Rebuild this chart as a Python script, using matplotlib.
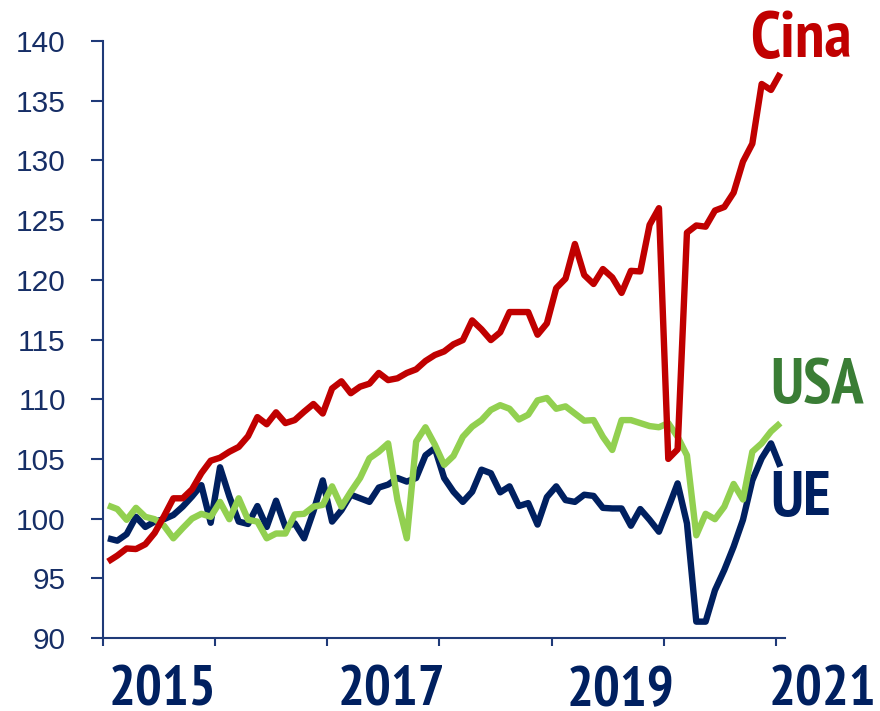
import numpy as np
import matplotlib
matplotlib.use("Agg")
import matplotlib.pyplot as plt
from matplotlib import font_manager as fm

# Monthly data, Jan 2015 - Jan 2021 (73 months)
cina = [96.4, 96.9, 97.5, 97.45, 97.85, 98.8, 100.2, 101.7, 101.7, 102.45, 103.8, 104.85,
        105.1, 105.6, 106.0, 106.9, 108.5, 107.9, 108.9, 108.0, 108.25, 108.95, 109.6, 108.8,
        110.9, 111.5, 110.5, 111.05, 111.3, 112.2, 111.6, 111.75, 112.2, 112.5, 113.2, 113.7,
        114.0, 114.6, 114.95, 116.6, 115.85, 114.95, 115.6, 117.3, 117.3, 117.3, 115.4, 116.35,
        119.3, 120.1, 123.0, 120.4, 119.65, 120.9, 120.2, 118.9, 120.75, 120.7, 124.6, 126.0,
        105.0, 105.8, 123.95, 124.55, 124.45, 125.8, 126.1, 127.3, 129.9, 131.4, 136.4, 135.9,
        137.3]
usa = [101.1, 100.8, 99.9, 100.9, 100.15, 99.95, 99.4, 98.35, 99.2, 100.0, 100.4, 100.15,
       101.4, 99.95, 101.7, 99.9, 99.75, 98.35, 98.75, 98.75, 100.35, 100.4, 101.0, 101.15,
       102.7, 101.0, 102.25, 103.4, 105.05, 105.6, 106.3, 101.55, 98.35, 106.45, 107.65, 106.2,
       104.5, 105.25, 106.85, 107.7, 108.25, 109.1, 109.5, 109.2, 108.3, 108.7, 109.9, 110.1,
       109.2, 109.4, 108.8, 108.2, 108.25, 106.85, 105.75, 108.25, 108.25, 108.0, 107.75, 107.65,
       108.0, 106.85, 105.3, 98.6, 100.4, 99.95, 101.0, 102.9, 101.6, 105.6, 106.3, 107.3,
       108.0]
ue = [98.35, 98.15, 98.7, 100.15, 99.3, 99.75, 99.95, 100.3, 101.0, 101.85, 102.8, 99.65,
      104.3, 101.85, 99.75, 99.55, 101.05, 99.3, 101.5, 99.3, 99.6, 98.35, 100.6, 103.2,
      99.75, 100.7, 102.0, 101.7, 101.4, 102.6, 102.85, 103.4, 103.1, 103.4, 105.3, 105.9,
      103.4, 102.25, 101.4, 102.25, 104.1, 103.8, 102.2, 102.7, 101.05, 101.3, 99.5, 101.8,
      102.7, 101.55, 101.4, 102.0, 101.9, 100.9, 100.85, 100.85, 99.4, 100.8, 99.9, 98.9,
      100.9, 102.95, 99.6, 91.37, 91.37, 94.0, 95.7, 97.65, 99.9, 103.2, 105.05, 106.3,
      104.35]
year_labels = ["2015", "2017", "2019", "2021"]
year_label_pos = [6.3, 30.9, 55.4, 77.0]
yticks = [90, 95, 100, 105, 110, 115, 120, 125, 130, 135, 140]

RED = "#C00000"
GREEN = "#92D050"
GREEN_TXT = "#3A7D35"
NAVY = "#002060"
AXC = "#1F3A78"
TICKTXT = "#162E66"

installed = {f.name for f in fm.fontManager.ttflist}
narrow_prefs = ["Liberation Sans Narrow", "Arial Narrow", "Arimo Narrow", "PT Sans Narrow",
                "Roboto Condensed", "Archivo Narrow", "Open Sans Condensed", "Asap Condensed",
                "Liberation Sans"]
narrow = next(f for f in narrow_prefs + ["DejaVu Sans"] if f in installed or f == "DejaVu Sans")
bold_family = [narrow, "DejaVu Sans"]
tick_family = [f for f in ["Liberation Sans", "DejaVu Sans"] if f in installed]

fig = plt.figure(figsize=(8.8, 7.11), dpi=100)
ax = fig.add_axes([103.3 / 880, 1 - 638 / 711, (785 - 103.3) / 880, (638 - 41) / 711])

x = np.arange(len(cina)) + 0.5
ax.plot(x, ue, color=NAVY, lw=4.6, solid_joinstyle="round", solid_capstyle="butt", zorder=3)
ax.plot(x, usa, color=GREEN, lw=4.6, solid_joinstyle="round", solid_capstyle="butt", zorder=4)
ax.plot(x, cina, color=RED, lw=4.6, solid_joinstyle="round", solid_capstyle="butt", zorder=5)

ax.set_xlim(0, 73)
ax.set_ylim(90, 140)
ax.set_xticks(np.arange(0, 73, 12))
ax.set_xticklabels([])
ax.set_yticks(yticks)
ax.set_yticklabels([str(v) for v in yticks], family=tick_family, fontsize=21.5, color=TICKTXT)

for s in ["top", "right"]:
    ax.spines[s].set_visible(False)
for s in ["left", "bottom"]:
    ax.spines[s].set_color(AXC)
    ax.spines[s].set_linewidth(1.5)
ax.tick_params(axis="y", direction="out", length=9, width=1.5, color=AXC, pad=18)
ax.tick_params(axis="x", direction="out", length=6, width=1.5, color=AXC)

renderer = fig.canvas.get_renderer()


def fitted_text(xpos, ypos, s, target_w, base_size, color, transform):
    t = fig.text(xpos, ypos, s, ha="center", va="baseline", family=bold_family,
                 fontweight="bold", fontsize=base_size, color=color, transform=transform)
    w = t.get_window_extent(renderer).width
    size = base_size * target_w / w
    size = max(min(size, base_size * 1.1), base_size * 0.72)
    t.set_fontsize(size)
    return t


trans = matplotlib.transforms.blended_transform_factory(ax.transData, fig.transFigure)
for lab, pos in zip(year_labels, year_label_pos):
    fitted_text(pos, 1 - 706 / 711, lab, 108, 42, NAVY, trans)

fitted_text(801 / 880, 1 - 57 / 711, "Cina", 104, 43, RED, fig.transFigure)
fitted_text(817 / 880, 1 - 403.5 / 711, "USA", 102, 42, GREEN_TXT, fig.transFigure)
fitted_text(801 / 880, 1 - 516 / 711, "UE", 64, 42, NAVY, fig.transFigure)

fig.savefig("out.png", dpi=100)
